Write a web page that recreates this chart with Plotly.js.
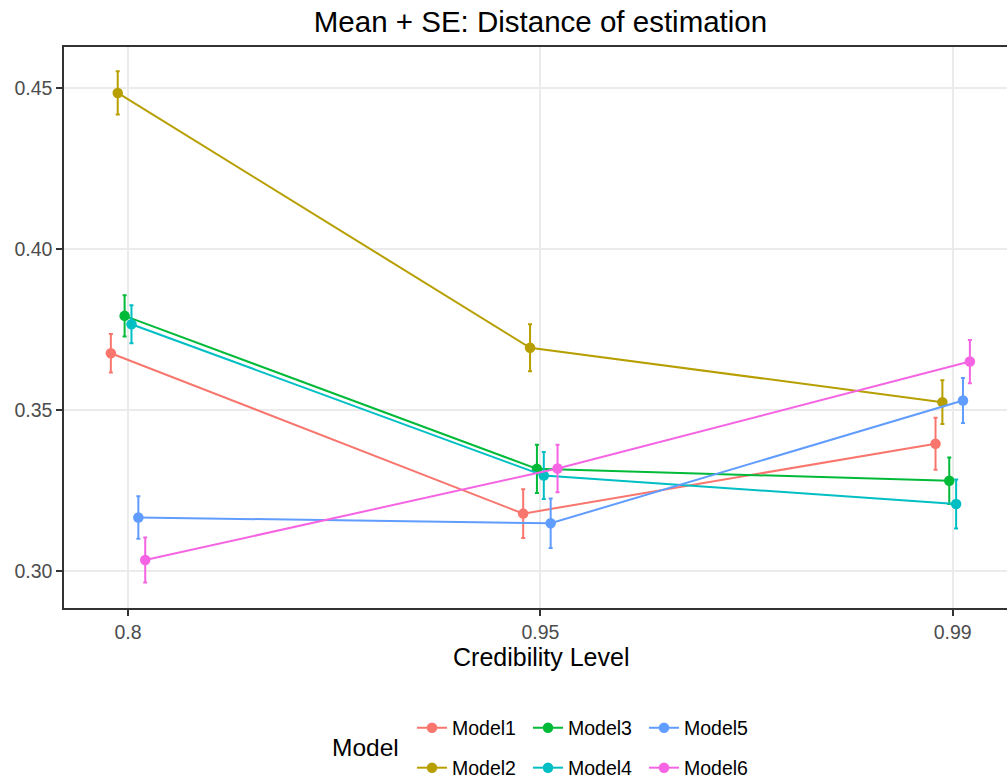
<!DOCTYPE html>
<html>
<head>
<meta charset="utf-8">
<script src="https://cdn.plot.ly/plotly-3.0.1.min.js"></script>
<style>html,body{margin:0;padding:0;background:#fff;}#chart{width:1007px;height:782px;}</style>
</head>
<body>
<div id="chart"></div>
<script>
// Categories (credibility levels)
const categories = ['0.8', '0.95', '0.99'];
const models = ['Model1', 'Model2', 'Model3', 'Model4', 'Model5', 'Model6'];
const colors = ['#F8766D', '#B79F00', '#00BA38', '#00BFC4', '#619CFF', '#F564E3'];

// Mean distance of estimation per model at each credibility level
const model1Mean = [0.3676, 0.3178, 0.3395];
const model2Mean = [0.4484, 0.3693, 0.3524];
const model3Mean = [0.3792, 0.3317, 0.3280];
const model4Mean = [0.3766, 0.3296, 0.3208];
const model5Mean = [0.3166, 0.3148, 0.3529];
const model6Mean = [0.3034, 0.3318, 0.3650];

// Standard errors
const model1SE = [0.0060, 0.0076, 0.0081];
const model2SE = [0.0067, 0.0073, 0.0068];
const model3SE = [0.0064, 0.0075, 0.0072];
const model4SE = [0.0059, 0.0073, 0.0076];
const model5SE = [0.0066, 0.0077, 0.0070];
const model6SE = [0.0070, 0.0074, 0.0067];

const means = [model1Mean, model2Mean, model3Mean, model4Mean, model5Mean, model6Mean];
const ses = [model1SE, model2SE, model3SE, model4SE, model5SE, model6SE];

const dodgeWidth = 0.1;
const FONT = 'Liberation Sans, Arial, sans-serif';

const traces = models.map((name, i) => {
  const offset = (i - (models.length - 1) / 2) * dodgeWidth / models.length;
  return {
    type: 'scatter',
    mode: 'lines+markers',
    name: name,
    x: categories.map((c, k) => k + 1 + offset),
    y: means[i],
    line: {color: colors[i], width: 2},
    marker: {color: colors[i], size: 10.5},
    error_y: {type: 'data', array: ses[i], visible: true, color: colors[i], thickness: 2, width: 2},
    legend: (i % 2 === 0) ? 'legend' : 'legend2',
    legendrank: i,
    hoverinfo: 'x+y+name'
  };
});

const legendCommon = {
  orientation: 'h',
  xref: 'container',
  yref: 'container',
  xanchor: 'left',
  yanchor: 'middle',
  x: 412 / 1007,
  font: {family: FONT, size: 19.5, color: '#000000'},
  entrywidth: 71,
  entrywidthmode: 'pixels',
  itemwidth: 30,
  bgcolor: 'rgba(0,0,0,0)',
  traceorder: 'normal'
};

const PL = 64, PW = 943, PB = 608, PH = 561;

const layout = {
  width: 1007,
  height: 782,
  margin: {l: 64, r: 0, t: 47, b: 174},
  paper_bgcolor: '#ffffff',
  plot_bgcolor: '#ffffff',
  font: {family: FONT, color: '#000000'},
  title: {
    text: 'Mean + SE: Distance of estimation',
    font: {family: FONT, size: 29.5, color: '#000000'},
    xref: 'container', x: 540.5 / 1007, xanchor: 'center',
    yref: 'container', y: 1 - 22 / 782, yanchor: 'middle'
  },
  xaxis: {
    range: [0.8447, 3.1317],
    tickvals: [1, 2, 3],
    ticktext: categories,
    showgrid: true,
    gridcolor: '#EBEBEB',
    gridwidth: 2,
    zeroline: false,
    showline: true,
    mirror: true,
    linecolor: '#333333',
    linewidth: 1.5,
    ticks: 'outside',
    ticklen: 6,
    tickwidth: 1.5,
    tickcolor: '#333333',
    tickfont: {family: FONT, size: 19.5, color: '#4D4D4D'}
  },
  yaxis: {
    range: [0.2885, 0.46266],
    tickvals: [0.30, 0.35, 0.40, 0.45],
    ticktext: ['0.30', '0.35', '0.40', '0.45'],
    showgrid: true,
    gridcolor: '#EBEBEB',
    gridwidth: 2,
    zeroline: false,
    showline: true,
    linecolor: '#333333',
    linewidth: 1.5,
    ticks: 'outside',
    ticklen: 6,
    tickwidth: 1.5,
    tickcolor: '#333333',
    tickfont: {family: FONT, size: 19.5, color: '#4D4D4D'}
  },
  legend: Object.assign({}, legendCommon, {y: 1 - 728 / 782}),
  legend2: Object.assign({}, legendCommon, {y: 1 - 768 / 782}),
  annotations: [{
    text: 'Credibility Level',
    xref: 'paper', yref: 'paper',
    x: (540.5 - PL) / PW, y: (PB - 657) / PH,
    xanchor: 'center', yanchor: 'middle',
    showarrow: false,
    font: {family: FONT, size: 25, color: '#000000'}
  }, {
    text: 'Model',
    xref: 'paper', yref: 'paper',
    x: (365 - PL) / PW, y: (PB - 747) / PH,
    xanchor: 'center', yanchor: 'middle',
    showarrow: false,
    font: {family: FONT, size: 24.5, color: '#000000'}
  }],
  showlegend: true
};

Plotly.newPlot('chart', traces, layout, {displayModeBar: false, responsive: false});
</script>
</body>
</html>
